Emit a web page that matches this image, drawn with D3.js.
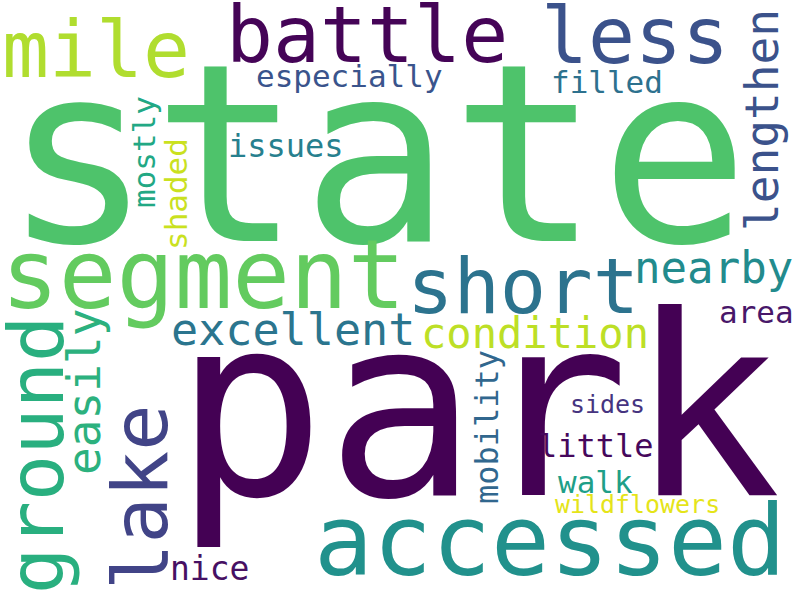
<!DOCTYPE html>
<html>
<head>
<meta charset="utf-8">
<script src="https://cdn.jsdelivr.net/npm/d3@7"></script>
<style>
  body { margin: 0; background: #fff; }
</style>
</head>
<body>
<div class="cloud"></div>
<script>

// words and their relative weight (largest = 100)
var words = ["park", "state", "accessed", "segment", "battle", "less", "mile",
  "short", "ground", "lake", "easily", "lengthen", "excellent", "nearby",
  "condition", "nice", "issues", "little", "mobility", "especially", "filled",
  "area", "walk", "mostly", "shaded", "sides", "wildflowers"];
var weights = [100, 98.4, 38.9, 38.1, 31, 31, 31,
  30.6, 30.6, 30.6, 18.3, 18.3, 17.9, 17.5,
  16.7, 13.1, 12.7, 12.7, 12.7, 12.3, 12.3,
  12.3, 12.3, 12.3, 12.3, 9.9, 9.9];

// layout
// horizontal: x = left of ink, y = baseline
// vertical (reads upward): x = baseline, y = bottom of ink
var layoutX = [197, 28, 320, 10, 233, 547, 6,
  415, 63, 167, 100, 778, 173, 638,
  425, 173, 230, 540, 498, 257, 553,
  721, 558, 155, 187, 572, 555];
var layoutY = [495, 241, 575, 308, 62, 63, 77,
  313, 590, 584, 473, 228, 345, 283,
  348, 580, 157, 457, 503, 87, 93,
  323, 493, 207, 247, 413, 513];
var vertical = [0, 0, 0, 0, 0, 0, 0,
  0, 1, 1, 1, 1, 0, 0,
  0, 0, 0, 0, 1, 0, 0,
  0, 0, 1, 1, 0, 0];
// position on the viridis ramp
var colorT = [0, 0.72, 0.5, 0.76, 0.01, 0.25, 0.88,
  0.38, 0.63, 0.2, 0.64, 0.25, 0.39, 0.48,
  0.9, 0.04, 0.43, 0.02, 0.33, 0.26, 0.37,
  0.06, 0.56, 0.6, 0.92, 0.15, 0.96];

var width = 800;
var height = 600;
var fontFamily = "DejaVu Sans Mono";

var svg = d3.select("div.cloud").append("svg")
  .attr("width", width).attr("height", height)
  .style("display", "block");

svg.append("rect").attr("width", width).attr("height", height).attr("fill", "#fff");

var xScale = d3.scaleLinear().domain([0, 800]).range([0, width]);
var yScale = d3.scaleLinear().domain([0, 600]).range([0, height]);
var sizeScale = d3.scaleLinear().domain([0, 100]).range([0, 252]);

// side bearing so the ink edge lands where it is in the picture
var ctx = document.createElement("canvas").getContext("2d");
function bearing(text, size) {
  ctx.font = size + "px '" + fontFamily + "'";
  return ctx.measureText(text).actualBoundingBoxLeft;
}

var data = words.map(function(w, i) {
  return { text: w, size: sizeScale(weights[i]), x: layoutX[i], y: layoutY[i],
    vertical: vertical[i], t: colorT[i] };
});

svg.append("g").selectAll("text")
  .data(data)
  .enter().append("text")
  .attr("font-family", fontFamily)
  .attr("font-size", function(d) { return d.size + "px"; })
  .attr("fill", function(d) { return d3.interpolateViridis(d.t); })
  .attr("transform", function(d) {
    var b = bearing(d.text, d.size);
    if (d.vertical) {
      return "translate(" + xScale(d.x) + "," + (yScale(d.y) - b) + ") rotate(-90)";
    }
    return "translate(" + (xScale(d.x) + b) + "," + yScale(d.y) + ")";
  })
  .text(function(d) { return d.text; });

</script>
</body>
</html>
